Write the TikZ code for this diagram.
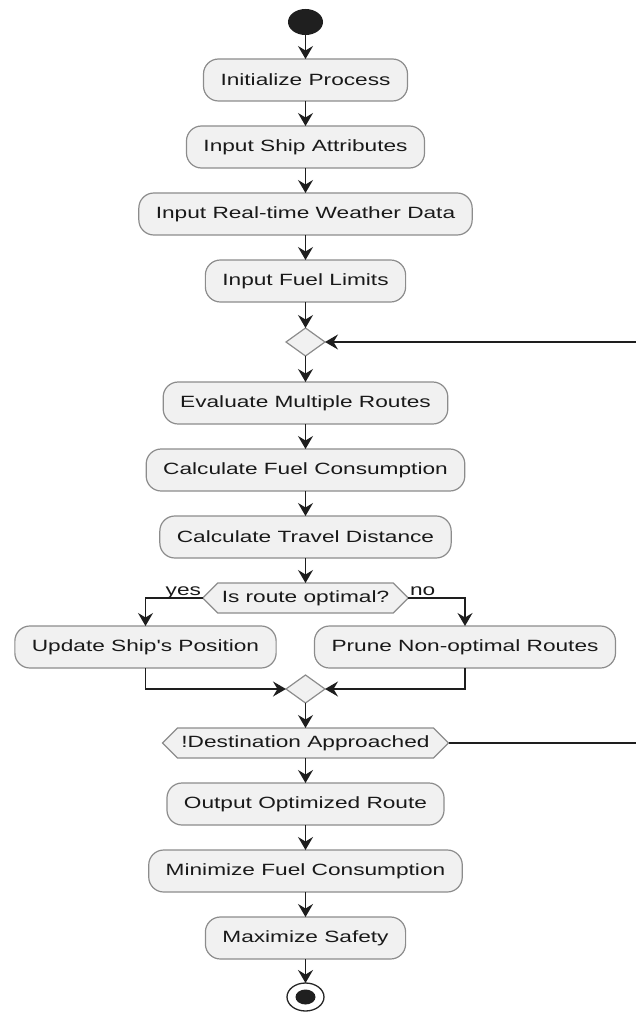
\documentclass[tikz,border=0pt]{standalone}
\usepackage{fontspec}
\newfontfamily\flowfont{Liberation Sans}[FakeStretch=1.39]
\usepackage{xcolor}
\usepackage{tikz}
\usetikzlibrary{arrows.meta,positioning,shapes.geometric,shapes.symbols}

\definecolor{boxfill}{HTML}{F1F1F1}
\definecolor{boxline}{HTML}{8C8C8C}
\definecolor{flowline}{HTML}{1E1E1E}

\begin{document}
\begin{tikzpicture}[
    x=1pt, y=1pt,
    act/.style={draw=boxline, fill=boxfill, line width=1.2pt, outer sep=0pt, rounded corners=15pt, align=center, minimum height=42pt, inner xsep=17pt, font=\flowfont\fontsize{16.3}{19}\selectfont, text=black!90},
    test/.style={signal, signal to=east and west, draw=boxline, fill=boxfill, line width=1.2pt, outer sep=0pt, minimum height=30pt, inner xsep=4pt, inner ysep=0pt, font=\flowfont\fontsize{16.3}{19}\selectfont, text=black!90},
    merge/.style={diamond, draw=boxline, fill=boxfill, line width=1.2pt, outer sep=0pt, minimum width=39pt, minimum height=28pt, inner sep=0pt},
    start/.style={ellipse, fill=black!88, outer sep=0pt, minimum width=35pt, minimum height=26pt, inner sep=0pt},
    stop/.style={ellipse, draw=black!85, fill=white, line width=1.3pt, outer sep=0pt, minimum width=37pt, minimum height=28pt, inner sep=0pt},
    flow/.style={draw=flowline, line width=1.5pt, -{Stealth[length=13pt, width=15pt, inset=4.5pt]}},
    lbl/.style={font=\flowfont\fontsize{16.3}{19}\selectfont, text=black!90, inner sep=1pt}
  ]
    \useasboundingbox (-305.5,22) rectangle (329.5,-994);

    \node[start] (start) at (0,0) {};
    \node[act, below=24pt of start] (init) {Initialize Process};
    \node[act, below=25pt of init] (ship) {Input Ship Attributes};
    \node[act, below=25pt of ship] (weather) {Input Real-time Weather Data};
    \node[act, below=25pt of weather] (fuel) {Input Fuel Limits};
    \node[merge, below=26pt of fuel] (loop) {};
    \node[act, below=26pt of loop] (routes) {Evaluate Multiple Routes};
    \node[act, below=25pt of routes] (consume) {Calculate Fuel Consumption};
    \node[act, below=25pt of consume] (distance) {Calculate Travel Distance};
    \node[test, below=25pt of distance] (optimal) {Is route optimal?};
    \node[act, below=13pt of optimal, xshift=-160pt] (update) {Update Ship's Position};
    \node[act, below=13pt of optimal, xshift=159.5pt] (prune) {Prune Non-optimal Routes};
    \node[merge, below=62pt of optimal] (join) {};
    \node[test, below=25pt of join] (approach) {!Destination Approached};
    \node[act, below=25pt of approach] (output) {Output Optimized Route};
    \node[act, below=25pt of output] (minfuel) {Minimize Fuel Consumption};
    \node[act, below=25pt of minfuel] (safety) {Maximize Safety};
    \node[stop, below=24pt of safety] (stop) {};
    \fill[black!88] (stop.center) ellipse (10pt and 7.5pt);
    \coordinate[right=205pt of approach.east] (back);

    % main line
    \draw[flow] (start) -- (init);
    \draw[flow] (init) -- (ship);
    \draw[flow] (ship) -- (weather);
    \draw[flow] (weather) -- (fuel);
    \draw[flow] (fuel) -- (loop);
    \draw[flow] (loop) -- (routes);
    \draw[flow] (routes) -- (consume);
    \draw[flow] (consume) -- (distance);
    \draw[flow] (distance) -- (optimal);

    % branches
    \draw[flow] (optimal.west) node[lbl, anchor=base east, yshift=3pt] {yes} -| (update.north);
    \draw[flow] (optimal.east) node[lbl, anchor=base west, yshift=3pt] {no} -| (prune.north);
    \draw[flow] (update.south) |- (join.west);
    \draw[flow] (prune.south) |- (join.east);
    \draw[flow] (join) -- (approach);

    % repeat while not there
    \draw[flow] (approach.east) -- (back) |- (loop.east);

    \draw[flow] (approach) -- (output);
    \draw[flow] (output) -- (minfuel);
    \draw[flow] (minfuel) -- (safety);
    \draw[flow] (safety) -- (stop);
  \end{tikzpicture}
\end{document}
